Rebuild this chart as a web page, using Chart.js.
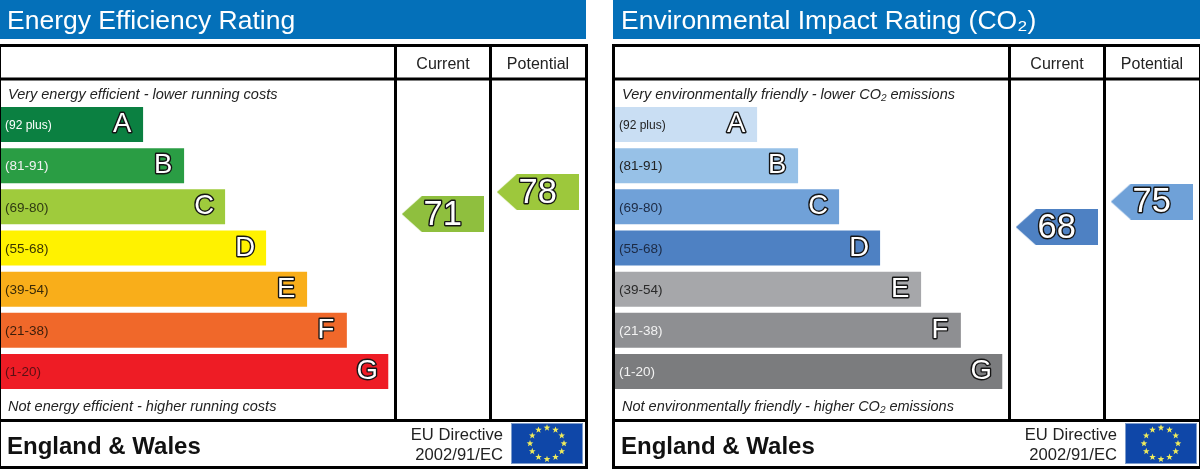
<!DOCTYPE html>
<html><head><meta charset="utf-8">
<style>html,body{margin:0;padding:0;background:#fff;overflow:hidden;width:1200px;height:469px}
canvas{position:absolute;top:0}</style>
<script src="https://cdn.jsdelivr.net/npm/chart.js@4"></script></head><body>
<canvas id="left" width="590" height="469" style="left:0"></canvas>
<canvas id="right" width="590" height="469" style="left:610px"></canvas>
<script>
const bandRanges=['(92 plus)','(81-91)','(69-80)','(55-68)','(39-54)','(21-38)','(1-20)'];
const bandLetters=['A','B','C','D','E','F','G'];
const bandLengths=[3.49,4.49,5.49,6.49,7.49,8.46,9.47];
const energyColors=['#0b8041','#2a9d44','#9fcb3c','#fff200','#f9ae1a','#f0682a','#ee1c25'];
const co2Colors=['#c9def3','#97c1e7','#70a1d8','#4e81c3','#a6a7aa','#8e8f92','#7b7c7e'];
const energyTickColors=['#fff','#f2f2f2','#2f3a12','#3a3500','#3a2a08','#3a1d0a','#5a1014'];
const co2TickColors=['#222','#222','#1c2a44','#1c2a44','#2a2a2a','#f2f2f2','#f2f2f2'];
const columns=['Current','Potential'];
const energyRatings=[71,78];
const energyRatingColors=['#8fbf3e','#9dc83c'];
const co2Ratings=[68,75];
const co2RatingColors=['#4e81c3','#6fa1d8'];
const energyRatingAxis=[14.4,106];
const co2RatingAxis=[22.7,101.8];
const FONT='"Liberation Sans",Arial,sans-serif';

function arrowImage(color){
  const c=document.createElement('canvas');c.width=82;c.height=36;
  const g=c.getContext('2d');g.fillStyle=color;g.beginPath();
  g.moveTo(0,18);g.lineTo(20,0);g.lineTo(82,0);g.lineTo(82,36);g.lineTo(20,36);g.closePath();g.fill();
  return c;
}
function outlined(ctx,t,x,y,size){
  ctx.font=size+'px '+FONT;ctx.textAlign='center';ctx.textBaseline='middle';
  ctx.lineJoin='round';ctx.lineWidth=2.8;ctx.strokeStyle='#151515';ctx.strokeText(t,x,y);
  ctx.fillStyle='#fff';ctx.fillText(t,x,y);
}
function star(ctx,x,y,r){
  ctx.beginPath();
  for(let i=0;i<10;i++){const a=-Math.PI/2+i*Math.PI/5,q=i%2?r*0.42:r;
    ctx[i?'lineTo':'moveTo'](x+q*Math.cos(a),y+q*Math.sin(a));}
  ctx.closePath();ctx.fill();
}
function panel(id,cfg){
  const ox=cfg.ox, W=590-ox;
  const chrome={id:'chrome',
    beforeDatasetsDraw(chart){
      const c=chart.ctx;c.save();c.translate(ox,0);
      c.fillStyle='#0470b9';c.fillRect(cfg.titleX,0,cfg.titleW,39);
      c.fillStyle='#fff';c.font='26.5px '+FONT;c.textAlign='left';c.textBaseline='alphabetic';
      c.fillText(cfg.title,7,29);
      c.fillStyle='#000';
      c.fillRect(-2,44,590,3);c.fillRect(-2,77.5,590,3);c.fillRect(-2,419,590,3);c.fillRect(-2,466,590,3);
      c.fillRect(585,44,3,425);
      c.fillRect(394,44,3,376);c.fillRect(489,44,3,376);
      c.fillStyle='#222';c.font='16px '+FONT;c.textAlign='center';
      c.fillText(columns[0],443,69);c.fillText(columns[1],538,69);
      c.font='italic 14.5px '+FONT;c.textAlign='left';
      c.fillText(cfg.top,8,99);c.fillText(cfg.bottom,8,411);
      c.fillStyle='#111';c.font='bold 24px '+FONT;c.fillText('England & Wales',7,454);
      c.fillStyle='#222';c.font='16.6px '+FONT;c.textAlign='right';
      c.fillText('EU Directive',503,440);c.fillText('2002/91/EC',503,460);
      c.fillStyle='#0f47a8';c.fillRect(511,423,72,41);
      c.strokeStyle='#7d9ccc';c.lineWidth=1;c.strokeRect(511.5,423.5,71,40);
      c.fillStyle='#efeb5c';
      for(let i=0;i<12;i++){const a=i*Math.PI/6;
        star(c,547+17*Math.sin(a),443.5-15.7*Math.cos(a),3.5);}
      c.restore();
    },
    afterDatasetsDraw(chart){
      const c=chart.ctx;c.save();
      c.fillStyle='#000';c.fillRect(ox-2,44,3,425);
      chart.getDatasetMeta(0).data.forEach((b,i)=>{
        outlined(c,bandLetters[i],b.x-21,b.y,27.5);
      });
      chart.getDatasetMeta(1).data.forEach((p,i)=>{
        outlined(c,String(cfg.ratings[i]),p.x,p.y+1,34.5);
      });
      c.restore();
    }};
  new Chart(document.getElementById(id),{
    type:'bar',
    plugins:[chrome],
    data:{labels:bandRanges,datasets:[
      {type:'bar',data:bandLengths,backgroundColor:cfg.colors,grouped:false,
       barPercentage:0.85,categoryPercentage:1,xAxisID:'x',yAxisID:'y',order:2},
      {type:'scatter',indexAxis:'x',data:cfg.ratings.map((r,i)=>({x:i,y:r})),xAxisID:'col',yAxisID:'rating',
       pointStyle:cfg.ratingColors.map(arrowImage),pointRadius:18,order:1}
    ]},
    options:{indexAxis:'y',responsive:false,animation:false,events:[],
      layout:{autoPadding:false,padding:{top:104,bottom:77,left:ox,right:0}},
      plugins:{legend:{display:false},tooltip:{enabled:false}},
      scales:{
        x:{type:'linear',display:false,offset:false,min:0,max:W/41},
        y:{type:'category',position:'left',offset:true,grid:{display:false},border:{display:false},
           afterFit(s){s.width=0},
           ticks:{mirror:true,padding:5,z:2,autoSkip:false,labelOffset:1,
             color:c=>cfg.tickColors[c.index],
             font:c=>({family:FONT,size:c.index===0?12:13.5})}},
        col:{type:'linear',axis:'x',display:false,offset:false,min:-442.8/95,max:(W-442.8)/95},
        rating:{type:'linear',axis:'y',display:false,offset:false,min:cfg.axis[0],max:cfg.axis[1]}
      }}
  });
}
panel('left',{ox:0,titleX:0,titleW:586,title:'Energy Efficiency Rating',
  top:'Very energy efficient - lower running costs',bottom:'Not energy efficient - higher running costs',
  colors:energyColors,tickColors:energyTickColors,ratings:energyRatings,ratingColors:energyRatingColors,axis:energyRatingAxis});
panel('right',{ox:4,titleX:-1,titleW:587,title:'Environmental Impact Rating (CO₂)',
  top:'Very environmentally friendly - lower CO₂ emissions',bottom:'Not environmentally friendly - higher CO₂ emissions',
  colors:co2Colors,tickColors:co2TickColors,ratings:co2Ratings,ratingColors:co2RatingColors,axis:co2RatingAxis});
</script></body></html>
